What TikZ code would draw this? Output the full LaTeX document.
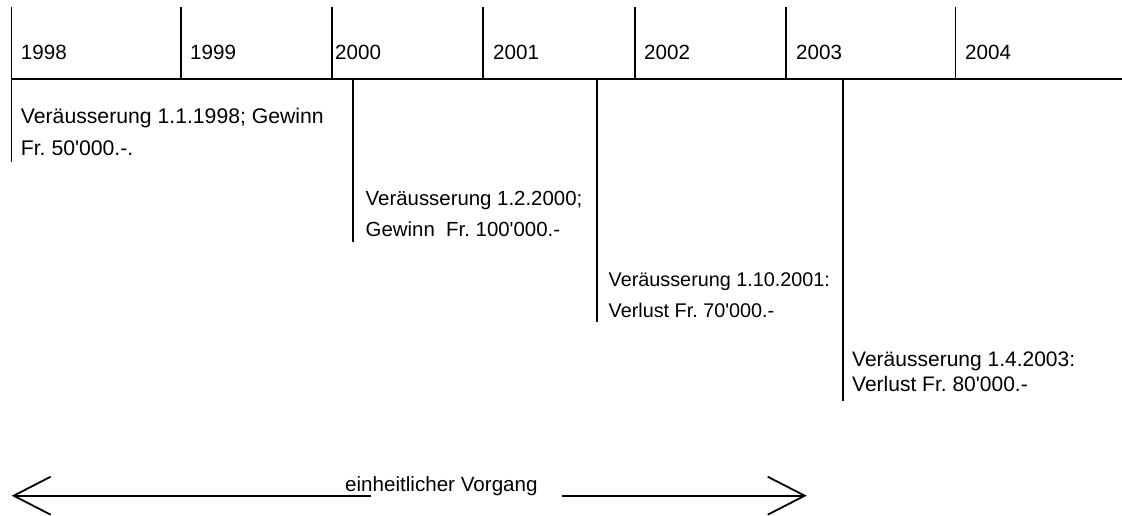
\documentclass[tikz,border=0pt]{standalone}
\usepackage{fontspec}
\setmainfont{Liberation Sans}
\newfontfamily\plainsans{Liberation Sans}
\usetikzlibrary{arrows.meta}
\frenchspacing
\begin{document}
\begin{tikzpicture}[x=1pt,y=-1pt,
  rule/.style={line width=1.8pt,line cap=butt},
  yeartxt/.style={anchor=base west,inner sep=0pt,font=\plainsans\fontsize{20.6}{24}\selectfont},
  evtxt/.style={anchor=base west,inner sep=0pt,font=\plainsans\fontsize{20.6}{24}\selectfont},
  barb/.style={line width=1.8pt,-{Straight Barb[length=37pt,width=38pt,line width=1.8pt]}}]
\useasboundingbox (0,0) rectangle (1122,516);
% timeline axis
\coordinate (axL) at (11.5,79.3);
\coordinate (axR) at (1122,79.3);
\draw[rule] (axL) -- (axR);
% year dividers
\foreach \n/\x in {a/11.5,b/181,c/332,d/483,e/635,f/786,g/955.5}{
  \coordinate (top\n) at (\x,7);
  \coordinate (bot\n) at (\x,79.3);
  \draw[rule] (top\n) -- (bot\n);
}
% year labels
\node[yeartxt] (y1998) at (20.7,59.3) {1998};
\node[yeartxt] (y1999) at (190,59.3) {1999};
\node[yeartxt] (y2000) at (335,59.3) {2000};
\node[yeartxt] (y2001) at (493,59.3) {2001};
\node[yeartxt] (y2002) at (644,59.3) {2002};
\node[yeartxt] (y2003) at (796,59.3) {2003};
\node[yeartxt] (y2004) at (965,59.3) {2004};
% event markers
\coordinate (e1t) at (11.5,79.3);  \coordinate (e1b) at (11.5,162);
\coordinate (e2t) at (352.7,79.3); \coordinate (e2b) at (352.7,242);
\coordinate (e3t) at (597,79.3);   \coordinate (e3b) at (597,322);
\coordinate (e4t) at (843,79.3);   \coordinate (e4b) at (843,401);
\draw[rule] (e1t) -- (e1b);
\draw[rule] (e2t) -- (e2b);
\draw[rule] (e3t) -- (e3b);
\draw[rule] (e4t) -- (e4b);
% event texts
\node[evtxt,font=\plainsans\fontsize{21.2}{24}\selectfont] (ev1a) at (20.7,124) {Veräusserung 1.1.1998; Gewinn};
\node[evtxt,font=\plainsans\fontsize{21.2}{24}\selectfont] (ev1b) at (20.7,156) {Fr. 50'000.-.};
\node[evtxt,font=\plainsans\fontsize{20.4}{24}\selectfont] (ev2a) at (365.5,205.5) {Veräusserung 1.2.2000;};
\node[evtxt,font=\plainsans\fontsize{20.4}{24}\selectfont] (ev2b) at (365.5,236) {Gewinn\ \ Fr. 100'000.-};
\node[evtxt,font=\plainsans\fontsize{19.8}{24}\selectfont] (ev3a) at (608.5,286.5) {Veräusserung 1.10.2001:};
\node[evtxt,font=\plainsans\fontsize{19.8}{24}\selectfont] (ev3b) at (608.5,317) {Verlust Fr. 70'000.-};
\node[evtxt,font=\plainsans\fontsize{21}{24}\selectfont] (ev4a) at (852,366.7) {Veräusserung 1.4.2003:};
\node[evtxt,font=\plainsans\fontsize{21}{24}\selectfont] (ev4b) at (852,391.7) {Verlust Fr. 80'000.-};
% unified process arrow
\node[evtxt] (lab) at (345,491.5) {einheitlicher Vorgang};
\coordinate (arLs) at (370.7,495.7);
\coordinate (arLe) at (11.7,495.7);
\coordinate (arRs) at (561.7,495.7);
\coordinate (arRe) at (806.7,495.7);
\draw[barb] (arLs) -- (arLe);
\draw[barb] (arRs) -- (arRe);
\end{tikzpicture}
\end{document}
